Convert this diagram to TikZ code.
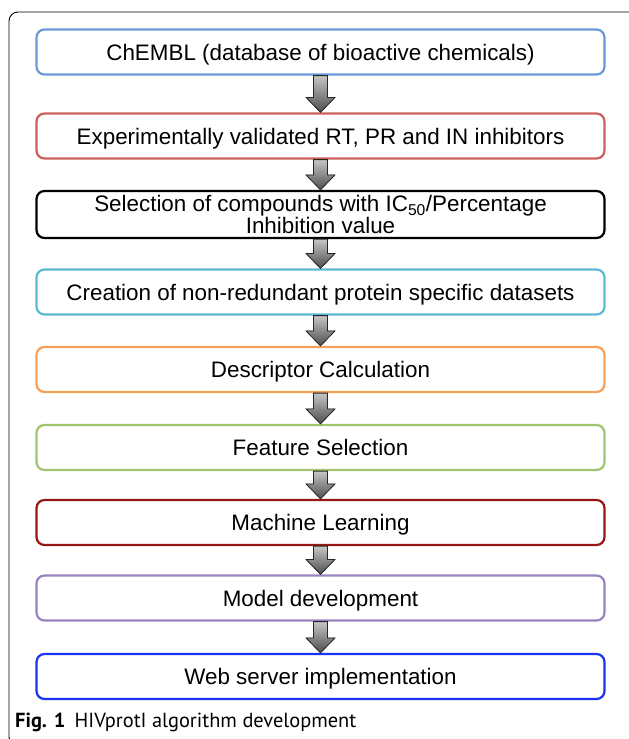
\documentclass[tikz,border=0pt]{standalone}
\usepackage{fontspec}
\setmainfont{Liberation Sans}
\newfontfamily\capfont{PT Sans}
\usetikzlibrary{calc}

\definecolor{chemblblue}{RGB}{104,155,212}
\definecolor{inhibred}{RGB}{204,96,92}
\definecolor{datacyan}{RGB}{92,184,214}
\definecolor{descorange}{RGB}{246,160,88}
\definecolor{featgreen}{RGB}{160,196,112}
\definecolor{mldarkred}{RGB}{150,22,22}
\definecolor{modelpurple}{RGB}{152,132,192}
\definecolor{webblue}{RGB}{24,52,242}

\newcommand{\flowarrow}[2]{%
  \filldraw[draw=black!85, line width=0.8pt, top color=gray!45, bottom color=black!70]
    ($(#1.south)+(-7,0)$) -- ($(#2.north)+(-7,-15)$) -- ($(#2.north)+(-14.5,-15)$)
    -- (#2.north) -- ($(#2.north)+(14.5,-15)$) -- ($(#2.north)+(7,-15)$)
    -- ($(#1.south)+(7,0)$) -- cycle;}

\begin{document}
\begin{tikzpicture}[x=1pt, y=-1pt,
  box/.style={draw, fill=white, line width=2.2pt, rounded corners=8pt,
    minimum width=568pt, minimum height=45pt, inner sep=0pt, align=center,
    text depth=0pt, font=\fontsize{22.4}{21.5}\selectfont}]
\useasboundingbox (0,0) rectangle (629,739);
\draw[line width=0.9pt, rounded corners=9pt] (9,12) rectangle (700,746);

\node[box, draw=chemblblue] (chembl) at (320.5,52) {ChEMBL (database of bioactive chemicals)};
\node[box, draw=inhibred] (inhib) at (320.5,136) {Experimentally validated RT, PR and IN inhibitors};
\node[box, draw=black, minimum height=47pt] (select) at (320.5,214.5) {Selection of compounds with IC\textsubscript{50}/Percentage\\Inhibition value};
\node[box, draw=datacyan] (dataset) at (320.5,292) {Creation of non-redundant protein specific datasets};
\node[box, draw=descorange] (desc) at (320.5,369.5) {Descriptor Calculation};
\node[box, draw=featgreen] (feat) at (320.5,447.5) {Feature Selection};
\node[box, draw=mldarkred] (ml) at (320.5,522.5) {Machine Learning};
\node[box, draw=modelpurple] (model) at (320.5,598) {Model development};
\node[box, draw=webblue] (web) at (320.5,676.5) {Web server implementation};

\flowarrow{chembl}{inhib}
\flowarrow{inhib}{select}
\flowarrow{select}{dataset}
\flowarrow{dataset}{desc}
\flowarrow{desc}{feat}
\flowarrow{feat}{ml}
\flowarrow{ml}{model}
\flowarrow{model}{web}

\node[anchor=base west, inner sep=0pt, font=\capfont\fontsize{20.4}{21}\selectfont] (caption) at (15,727)
  {\textbf{Fig. 1}\hspace{0.45em}HIVprotI algorithm development};
\end{tikzpicture}
\end{document}
